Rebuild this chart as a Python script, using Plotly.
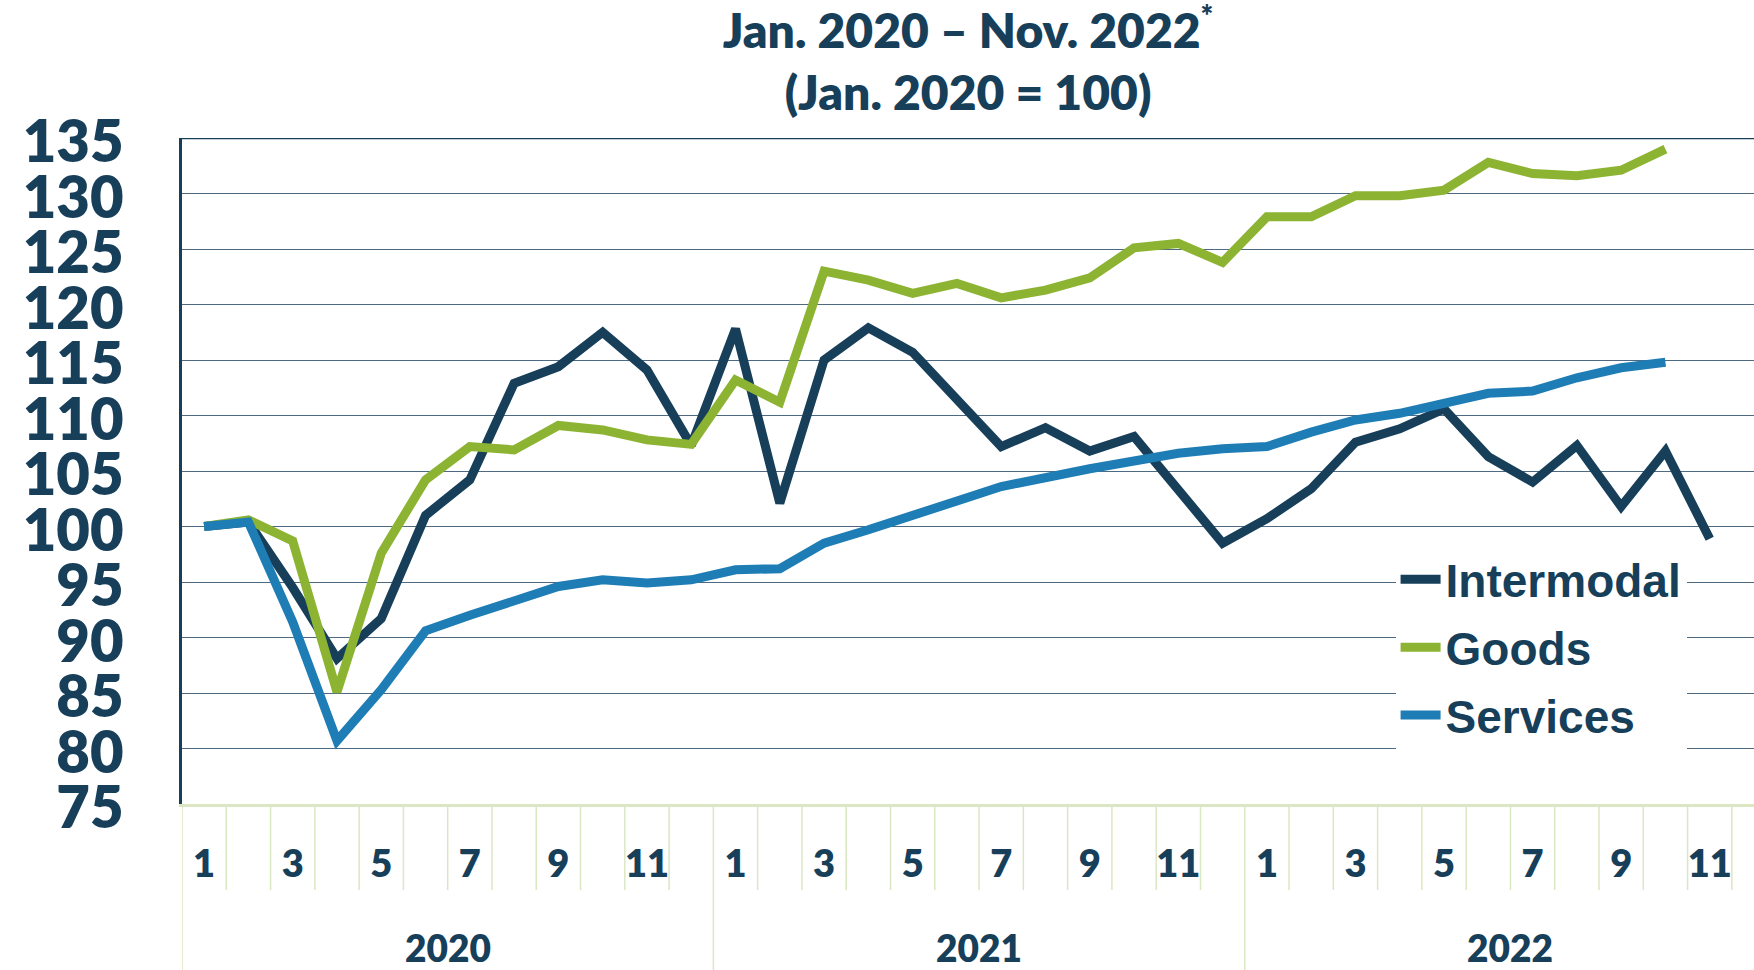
import plotly.graph_objects as go

# ---- data ----
years = [2020, 2021, 2022]
month_numbers = list(range(1, 13))
n_months = 35  # Jan 2020 - Nov 2022
categories = [f"{y}-{m:02d}" for y in years for m in month_numbers][:n_months]

intermodal = [100.0, 100.4, 94.5, 88.1, 91.7, 101.0, 104.2, 112.9, 114.4, 117.5, 114.1, 107.3,
              117.8, 102.1, 115.0, 117.9, 115.7, 111.5, 107.2, 108.9, 106.8, 108.1, 103.4, 98.5,
              100.7, 103.4, 107.6, 108.8, 110.6, 106.3, 104.0, 107.3, 101.8, 106.8, 98.9]
goods = [100.0, 100.6, 98.7, 85.1, 97.6, 104.2, 107.2, 106.9, 109.1, 108.7, 107.8, 107.4,
         113.2, 111.2, 123.0, 122.2, 121.0, 121.9, 120.6, 121.3, 122.4, 125.1, 125.5, 123.8,
         127.9, 127.9, 129.8, 129.8, 130.3, 132.8, 131.8, 131.6, 132.1, 134.0]
services = [100.0, 100.4, 91.4, 80.7, 85.3, 90.6, 92.0, 93.4, 94.6, 95.2, 94.9, 95.2,
            96.1, 96.2, 98.5, 99.7, 100.9, 102.3, 103.6, 104.5, 105.2, 105.9, 106.6, 107.0,
            107.2, 108.5, 109.6, 110.2, 111.2, 112.0, 112.2, 113.4, 114.3, 114.8]

series_names = ["Intermodal", "Goods", "Services"]
series_values = [intermodal, goods, services]

NAVY = "#173f5a"
GREEN = "#8cb432"
BLUE = "#1f7db5"
LIGHT_GREEN = "#dbe7c2"
GRID = "#4d6a82"
colors = [NAVY, GREEN, BLUE]

fig = go.Figure()
for name, vals, col in zip(series_names, series_values, colors):
    fig.add_trace(go.Scatter(
        x=categories[:len(vals)], y=vals, name=name, mode="lines",
        legendgroup=name,
        line=dict(color=col, width=9, shape="linear"),
    ))

# month tick labels on odd months
tick_idx = list(range(0, n_months, 2))
tickvals = [categories[i] for i in tick_idx]
ticktext = [str(int(categories[i][-2:])) for i in tick_idx]

W, H = 1754, 970
M_L, M_T, M_B = 182, 138, 166
plot_h = H - M_T - M_B

shapes = []
# month / year dividers in the category table
for k in range(n_months + 1):
    is_year = (k % 12 == 0)
    shapes.append(dict(type="line", xref="x", yref="paper",
                       x0=k - 0.5, x1=k - 0.5, y0=0,
                       y1=-(M_B / plot_h) if is_year else -(86 / plot_h),
                       line=dict(color=LIGHT_GREEN, width=1.5), layer="below"))
# top border
shapes.append(dict(type="line", xref="paper", yref="y", x0=0, x1=1, y0=135, y1=135,
                   line=dict(color=NAVY, width=2.5)))

annotations = []
for j, y in enumerate(years):
    annotations.append(dict(text=y, xref="x", yref="paper",
                            x=12 * j + 5.5, y=-(143 / plot_h), yanchor="middle",
                            showarrow=False,
                            font=dict(size=37, color=NAVY, family="Lato", weight=800)))

fig.update_layout(
    width=W, height=H,
    margin=dict(l=M_L, r=0, t=M_T, b=M_B, pad=0),
    plot_bgcolor="white", paper_bgcolor="white",
    font=dict(family="Lato", color=NAVY),
    title=dict(text="Jan. 2020 – Nov. 2022<sup><span style='font-size:30px'>*</span></sup>"
                    "<br>(Jan. 2020 = 100)",
               x=0.5, xref="paper", xanchor="center",
               y=0.951, yref="container", yanchor="top",
               font=dict(size=48, color=NAVY, family="Lato", weight=800)),
    xaxis=dict(type="category", categoryorder="array", categoryarray=categories,
               range=[-0.5, 35.0], tickmode="array", tickvals=tickvals, ticktext=ticktext,
               ticks="outside", ticklen=25, tickcolor="rgba(0,0,0,0)",
               showline=True, linecolor=LIGHT_GREEN, linewidth=2.5, showgrid=False,
               tickfont=dict(size=38, color=NAVY, family="Lato", weight=800)),
    yaxis=dict(range=[75, 135], tick0=75, dtick=5, showgrid=True, gridcolor=GRID, gridwidth=1.2,
               showline=True, linecolor=NAVY, linewidth=2.5, zeroline=False,
               ticks="", ticklabelstandoff=44, ticklabelshift=4,
               tickfont=dict(size=58, color=NAVY, family="Lato", weight=800)),
    legend=dict(x=0.772, xanchor="left", y=0.392, yanchor="top",
                bgcolor="white", borderwidth=0,
                font=dict(size=46, color=NAVY, family="Liberation Sans", weight="bold"),
                itemwidth=40, tracegroupgap=5),
    shapes=shapes,
    annotations=annotations,
    showlegend=True,
)

fig.write_html("out.html",
               config={"displayModeBar": False},
               post_script="document.body.style.margin='0px';document.body.style.overflow='hidden';")
